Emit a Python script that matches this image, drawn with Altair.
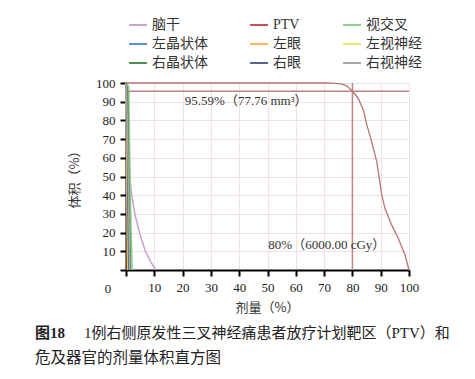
import altair as alt
import pandas as pd

series = ["脑干", "PTV", "视交叉", "左晶状体", "左眼", "左视神经", "右晶状体", "右眼", "右视神经"]
colors = ["#c9a3c9", "#c8504d", "#8fce8f", "#5b8fd0", "#f5b95a", "#ece96a", "#4f8f4f", "#56658f", "#a6a6a6"]

# dose (%) / volume (%) pairs
brain_x = [0, 0.8, 1.2, 2, 3.2, 5, 6.7, 8.5, 9.7, 10.5]
brain_y = [100, 70, 52, 40, 29.4, 18.7, 10.7, 5, 2, 0]
ptv_x = [0, 70, 73, 76, 78, 80, 82, 84, 85, 86.2, 87.4, 88.6, 89.5, 90.4, 91.5, 93.9, 96.2, 98.6, 100]
ptv_y = [100, 100, 99.9, 99.5, 98.5, 95.6, 92, 85, 78, 72, 65, 58, 49, 40, 33, 24, 17, 8, 0]
chiasm_x = [0, 1, 1.5, 2.2]
chiasm_y = [100, 98, 40, 0]
llens_x = [0, 0.3, 0.6]
llens_y = [100, 60, 0]
leye_x = [0, 0.3, 0.5]
leye_y = [100, 50, 0]
lnerve_x = [0, 0.5, 0.9]
lnerve_y = [100, 60, 0]
rlens_x = [0, 0.6, 1, 1.6]
rlens_y = [100, 95, 50, 0]
reye_x = [0, 0.4, 0.7, 1]
reye_y = [100, 80, 30, 0]
rnerve_x = [0, 0.5, 0.9, 1.3]
rnerve_y = [100, 80, 40, 0]

xs = [brain_x, ptv_x, chiasm_x, llens_x, leye_x, lnerve_x, rlens_x, reye_x, rnerve_x]
ys = [brain_y, ptv_y, chiasm_y, llens_y, leye_y, lnerve_y, rlens_y, reye_y, rnerve_y]

rows = []
for s, xx, yy in zip(series, xs, ys):
    for i, (a, b) in enumerate(zip(xx, yy)):
        rows.append({"series": s, "x": a, "y": b, "i": i})
df = pd.DataFrame(rows)
ptv_df = df[df["series"] == "PTV"]
oar_df = df[df["series"] != "PTV"]

# legend fills column by column: reorder so rows read as in the reference
legend_order = [series[k] for k in (0, 3, 6, 1, 4, 7, 2, 5, 8)]
legend_colors = [colors[k] for k in (0, 3, 6, 1, 4, 7, 2, 5, 8)]

ref_h = pd.DataFrame({"x": [0], "x2": [100], "y": [95.59]})
ref_v = pd.DataFrame({"x": [80], "y": [0], "y2": [100]})
ann = pd.DataFrame({"x": [20.8, 50.3], "y": [90.4, 13.4],
                    "t": ["95.59%（77.76 mm³）", "80%（6000.00 cGy）"]})
origin = pd.DataFrame({"x": [0], "y": [0], "t": ["0"]})

serif = "'Liberation Serif', 'Noto Sans CJK SC'"
cjk = "'Noto Sans CJK SC'"
ticks = list(range(0, 101, 10))

xscale = alt.Scale(domain=[0, 100], nice=False)
yscale = alt.Scale(domain=[0, 100], nice=False)

xaxis = alt.Axis(values=ticks, labelExpr="datum.value == 0 ? '' : datum.label",
                 title="剂量（%）", titleFont=cjk, titleFontSize=13, titleFontWeight="normal",
                 titleColor="#333", titleX=141, titleY=37, titleBaseline="middle",
                 labelFont=serif, labelFontSize=13, labelColor="#222", labelPadding=5,
                 labelOverlap=False,
                 tickSize=6, tickWidth=2, tickColor="#000", domainColor="#000", domainWidth=2,
                 grid=True, gridColor="#f0e2e2", gridWidth=1, labelFlush=False)
yaxis = alt.Axis(values=ticks, labelExpr="datum.value == 0 ? '' : datum.label",
                 title="体积（%）", titleFont=cjk, titleFontSize=13, titleFontWeight="normal",
                 titleColor="#333", titleX=-52, titleY=93, titleAngle=-90, titleAlign="center",
                 titleBaseline="middle",
                 labelFont=serif, labelFontSize=13, labelColor="#222", labelPadding=5,
                 labelOverlap=False,
                 tickSize=6, tickWidth=2, tickColor="#000", domainColor="#000", domainWidth=2,
                 grid=True, gridColor="#f0e2e2", gridWidth=1, labelFlush=False)

X = alt.X("x:Q", scale=xscale, axis=xaxis)
Y = alt.Y("y:Q", scale=yscale, axis=yaxis)

base_lines = alt.Chart(oar_df).mark_line(strokeWidth=1.5).encode(
    x=X, y=Y, order="i:Q",
    color=alt.Color("series:N", scale=alt.Scale(domain=legend_order, range=legend_colors),
                    sort=legend_order,
                    legend=alt.Legend(orient="none", legendX=2, legendY=-68, columns=3,
                                      symbolType="stroke", symbolStrokeWidth=2, symbolSize=320,
                                      labelFont=serif, labelFontSize=14, labelColor="#333",
                                      columnPadding=38, rowPadding=2, labelOffset=4,
                                      title=None)),
)

ptv_top = alt.Chart(ptv_df).mark_line(strokeWidth=1.3, color="#b97474").encode(
    x=X, y=Y, order="i:Q")

rule_h = alt.Chart(ref_h).mark_rule(color="#b98585", strokeWidth=1.5).encode(
    x=X, x2="x2:Q", y=Y)
rule_v = alt.Chart(ref_v).mark_rule(color="#b98585", strokeWidth=1.5).encode(
    x=X, y=Y, y2="y2:Q")

ann_text = alt.Chart(ann).mark_text(align="left", baseline="middle", font=serif,
                                    fontSize=13, color="#333").encode(
    x=X, y=Y, text="t:N")
origin_text = alt.Chart(origin).mark_text(align="center", baseline="middle", font=serif,
                                          fontSize=13, color="#222", dx=-18, dy=19).encode(
    x=X, y=Y, text="t:N")

cap = pd.DataFrame({"t": ["图18"]})
cap_bold = alt.Chart(cap).mark_text(align="left", baseline="middle", font=serif,
                                    fontSize=15, fontWeight="bold", color="#222").encode(
    x=alt.value(-91), y=alt.value(250), text="t:N")
cap1 = pd.DataFrame({"t": ["1例右侧原发性三叉神经痛患者放疗计划靶区（PTV）和"]})
cap_l1 = alt.Chart(cap1).mark_text(align="left", baseline="middle", font=serif,
                                   fontSize=15, color="#222").encode(
    x=alt.value(-42), y=alt.value(250), text="t:N")
cap2 = pd.DataFrame({"t": ["危及器官的剂量体积直方图"]})
cap_l2 = alt.Chart(cap2).mark_text(align="left", baseline="middle", font=serif,
                                   fontSize=15.5, color="#222").encode(
    x=alt.value(-91), y=alt.value(275), text="t:N")

chart = alt.layer(base_lines, rule_h, rule_v, ptv_top, ann_text, origin_text,
                  cap_bold, cap_l1, cap_l2).properties(
    width=283, height=187,
    padding={"left": 118, "top": 75, "right": 58, "bottom": 100},
    autosize=alt.AutoSizeParams(type="none"),
    background="white",
).configure_view(stroke=None)

chart.save("out.html", embed_options={"renderer": "svg", "actions": False})
